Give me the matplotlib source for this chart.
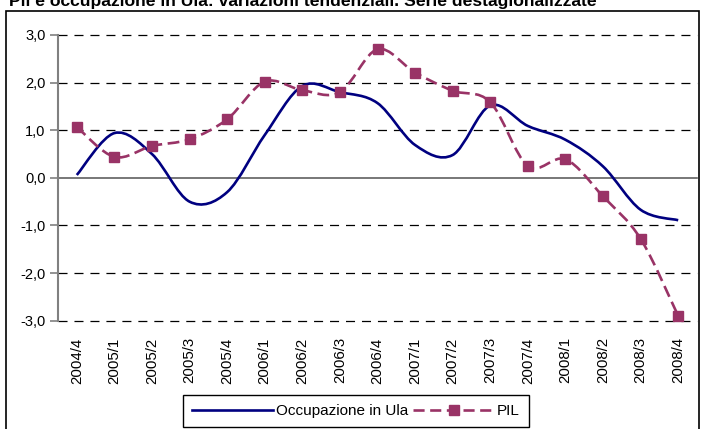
import matplotlib
matplotlib.use("Agg")
import matplotlib.pyplot as plt
from matplotlib.path import Path
from matplotlib.patches import PathPatch, Rectangle
from matplotlib.lines import Line2D

plt.rcParams['font.family'] = ['Liberation Sans', 'DejaVu Sans']
plt.rcParams['lines.scale_dashes'] = False

title = "Pil e occupazione in Ula: variazioni tendenziali. Serie destagionalizzate"
quarters = ["2004/4", "2005/1", "2005/2", "2005/3", "2005/4",
            "2006/1", "2006/2", "2006/3", "2006/4",
            "2007/1", "2007/2", "2007/3", "2007/4",
            "2008/1", "2008/2", "2008/3", "2008/4"]
occupazione = [0.06, 0.94, 0.50, -0.50, -0.30, 0.90, 1.93, 1.80, 1.57,
               0.69, 0.48, 1.52, 1.09, 0.80, 0.24, -0.67, -0.89]
pil = [1.07, 0.44, 0.67, 0.81, 1.23, 2.02, 1.84, 1.80, 2.70,
       2.21, 1.83, 1.59, 0.25, 0.39, -0.39, -1.28, -2.90]
yticks = [-3, -2, -1, 0, 1, 2, 3]

NAVY = '#000080'
PLUM = '#993366'


def smooth_path(xs, ys):
    # excel-like smoothed line: cubic bezier, catmull-rom control points
    n = len(xs)
    verts = [(xs[0], ys[0])]
    codes = [Path.MOVETO]
    for i in range(n - 1):
        x0, y0 = xs[max(i - 1, 0)], ys[max(i - 1, 0)]
        x1, y1 = xs[i], ys[i]
        x2, y2 = xs[i + 1], ys[i + 1]
        x3, y3 = xs[min(i + 2, n - 1)], ys[min(i + 2, n - 1)]
        c1 = (x1 + (x2 - x0) / 6, y1 + (y2 - y0) / 6)
        c2 = (x2 - (x3 - x1) / 6, y2 - (y3 - y1) / 6)
        verts += [c1, c2, (x2, y2)]
        codes += [Path.CURVE4] * 3
    return Path(verts, codes)


W, H = 701, 429
fig = plt.figure(figsize=(W / 100, H / 100), dpi=100)
ax = fig.add_axes([58 / W, 1 - 320.7 / H, 639 / W, 285.7 / H])

x = list(range(len(quarters)))

for v in yticks:
    if v == 0:
        ax.axhline(v, color='#606060', lw=1.2, zorder=1, clip_on=False)
    else:
        ax.axhline(v, color='black', lw=0.9, dashes=(6.5, 5), zorder=1,
                   clip_on=False)

ax.add_patch(PathPatch(smooth_path(x, occupazione), fill=False,
                       edgecolor=NAVY, lw=1.9, zorder=3))
ax.add_patch(PathPatch(smooth_path(x, pil), fill=False, edgecolor=PLUM,
                       lw=1.9, linestyle=(0, (8.5, 4)), zorder=3,
                       clip_on=False))
ax.plot(x, pil, ls='none', marker='s', ms=6.5, color=PLUM, zorder=4,
        clip_on=False)

ax.set_xlim(-0.5, len(quarters) - 0.5)
ax.set_ylim(-3, 3)
ax.set_yticks(yticks)
ax.set_yticklabels([f"{v:.1f}".replace('.', ',') for v in yticks], fontsize=10.5)
ax.set_xticks(x)
ax.set_xticklabels(quarters, rotation=90, fontsize=10.8)
ax.tick_params(axis='x', length=0, pad=12)
ax.tick_params(axis='y', length=6, width=1.2, color='#808080', pad=3)
for s in ['top', 'right', 'bottom']:
    ax.spines[s].set_visible(False)
ax.spines['left'].set_color('#808080')
ax.spines['left'].set_linewidth(1.5)

handles = [Line2D([], [], color=NAVY, lw=1.9),
           Line2D([], [], color=PLUM, lw=1.9, dashes=(8, 4), marker='s', ms=6.5)]
leg = fig.legend(handles, ["Occupazione in Ula", "PIL"], loc='center',
                 bbox_to_anchor=(356 / W, 1 - 411 / H), ncol=2, fontsize=11,
                 frameon=True, fancybox=False, edgecolor='black', framealpha=1,
                 handlelength=5.3, handletextpad=0.15, columnspacing=0.35,
                 borderpad=0.6, borderaxespad=0)
leg.get_frame().set_linewidth(1)

# outer chart border
fig.patches.append(Rectangle((5.5 / W, -0.05), 693.5 / W, 1.05 - 11 / H,
                             transform=fig.transFigure, fill=False,
                             edgecolor='black', lw=1.2))

fig.text(9 / W, 1 - 6 / H, title, fontsize=12.6, fontweight='bold',
         va='baseline', ha='left')

fig.savefig("out.png", dpi=100)
